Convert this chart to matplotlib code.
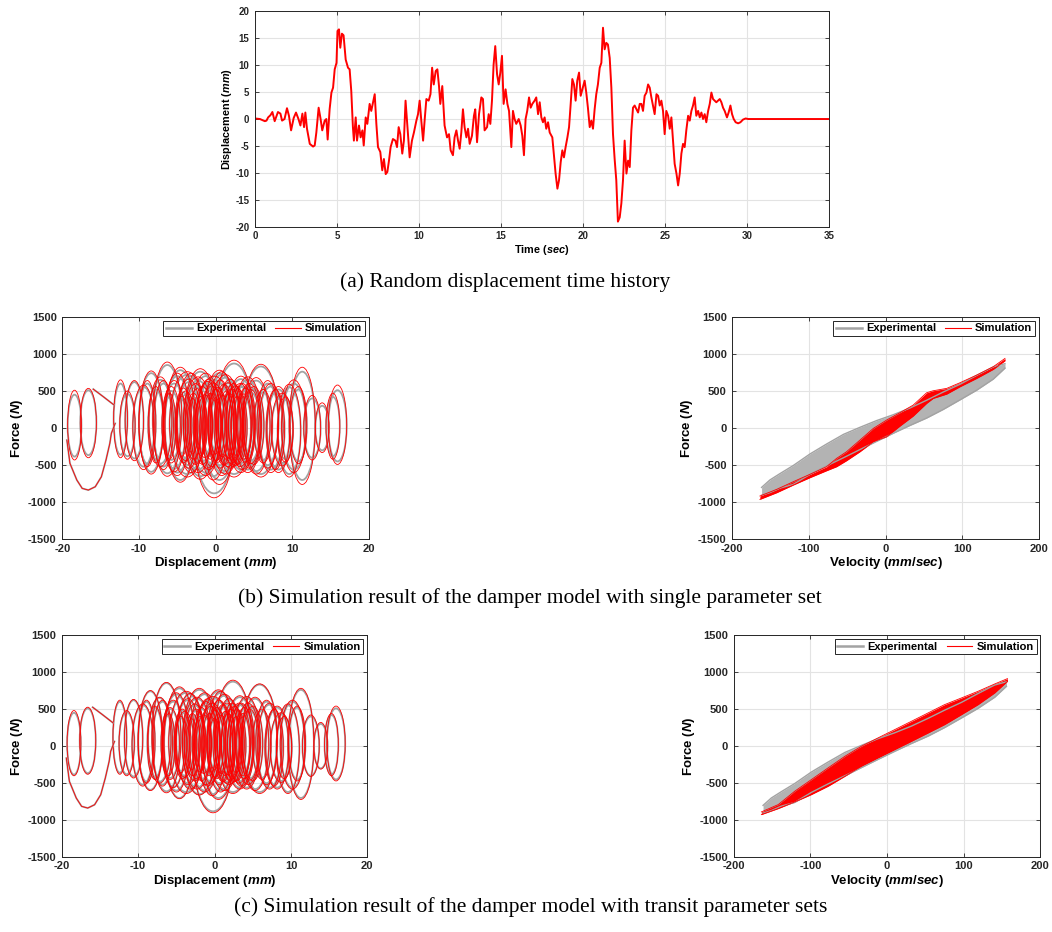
import numpy as np
import matplotlib.pyplot as plt
from matplotlib.patches import Ellipse
from matplotlib.lines import Line2D

plt.rcParams['font.family'] = ['Liberation Sans', 'DejaVu Sans']
plt.rcParams['mathtext.fontset'] = 'custom'
plt.rcParams['mathtext.it'] = 'Liberation Sans:italic:bold'
plt.rcParams['mathtext.rm'] = 'Liberation Sans:bold'
plt.rcParams['axes.unicode_minus'] = False

# (a) displacement time history
t_hist = [0, 0.3, 0.6, 0.7, 0.8, 0.94, 1.06, 1.2, 1.4, 1.55, 1.65, 1.8, 1.95, 2.07, 2.2, 2.36, 2.5, 2.65, 2.77, 2.89,
          2.99, 3.07, 3.17, 3.34, 3.54, 3.64, 3.74, 3.88, 4.0, 4.1, 4.25, 4.35, 4.43, 4.55, 4.66, 4.76, 4.86, 4.97,
          5.03, 5.12, 5.2, 5.3, 5.4, 5.53, 5.67, 5.77, 5.87, 5.97, 6.03, 6.14, 6.22, 6.34, 6.44, 6.55, 6.63, 6.75,
          6.85, 6.99, 7.09, 7.2, 7.3, 7.4, 7.5, 7.64, 7.76, 7.86, 7.97, 8.07, 8.17, 8.27, 8.41, 8.56, 8.66, 8.76,
          8.86, 8.98, 9.08, 9.18, 9.33, 9.43, 9.57, 9.69, 9.84, 9.94, 10.04, 10.14, 10.25, 10.35, 10.45, 10.59,
          10.7, 10.8, 10.9, 11.02, 11.12, 11.22, 11.3, 11.42, 11.56, 11.71, 11.83, 11.93, 12.07, 12.17, 12.28,
          12.38, 12.48, 12.58, 12.68, 12.78, 12.89, 12.99, 13.09, 13.23, 13.35, 13.43, 13.54, 13.66, 13.8, 13.9,
          14.0, 14.15, 14.25, 14.35, 14.45, 14.55, 14.65, 14.76, 14.86, 14.96, 15.06, 15.16, 15.28, 15.39, 15.49,
          15.63, 15.73, 15.83, 15.93, 16.08, 16.2, 16.3, 16.4, 16.5, 16.6, 16.71, 16.81, 16.91, 17.05, 17.15,
          17.26, 17.36, 17.46, 17.56, 17.66, 17.76, 17.87, 17.97, 18.13, 18.23, 18.33, 18.44, 18.54, 18.64,
          18.74, 18.84, 18.94, 19.05, 19.15, 19.25, 19.35, 19.45, 19.55, 19.65, 19.76, 19.86, 19.96, 20.1, 20.2,
          20.3, 20.41, 20.51, 20.61, 20.71, 20.81, 20.91, 21.02, 21.12, 21.22, 21.32, 21.42, 21.52, 21.63,
          21.73, 21.83, 21.93, 22.03, 22.13, 22.24, 22.34, 22.44, 22.54, 22.65, 22.75, 22.85, 22.95, 23.05,
          23.15, 23.26, 23.36, 23.46, 23.56, 23.66, 23.76, 23.87, 23.97, 24.07, 24.17, 24.27, 24.37, 24.48,
          24.58, 24.68, 24.78, 24.88, 24.98, 25.08, 25.19, 25.29, 25.39, 25.49, 25.59, 25.7, 25.8, 25.9, 26.0,
          26.1, 26.2, 26.3, 26.41, 26.51, 26.61, 26.71, 26.81, 26.91, 27.02, 27.12, 27.22, 27.32, 27.42, 27.52,
          27.63, 27.73, 27.83, 27.93, 28.03, 28.13, 28.24, 28.34, 28.44, 28.54, 28.64, 28.78, 28.88, 28.99,
          29.09, 29.19, 29.31, 29.46, 29.6, 29.76, 29.92, 30.07, 35]
d_hist = [0.1, 0, -0.4, -0.3, 0.3, 0.7, 1.3, -0.4, 1.3, 1.0, -0.3, 0, 2.0, 0.6, -2.1, 0.2, 1.2, 0, -1.2, 1.0,
          -1.5, 1.2, -1.8, -4.6, -5.1, -4.9, -2.5, 2.1, 0, -2.1, -0.3, 0, -3.8, 1.8, 4.9, 5.8, 9.2, 10.4,
          16.3, 16.6, 13.2, 15.8, 15.5, 11.0, 9.5, 9.2, 5.2, -1.5, -4.0, 0.3, -4.0, -1.2, -3.4, -2.1, -4.9, 0.3,
          -0.9, 2.8, 1.5, 3.1, 4.6, -0.9, -5.2, -6.1, -9.5, -7.4, -10.2, -9.8, -7.7, -5.2, -3.7, -4.0, -5.2, -1.5,
          -2.8, -6.4, -4.0, 3.4, -2.8, -7.1, -4.0, -2.5, -0.3, 0.9, 3.4, -0.3, -4.0, 0, 3.7, 3.4,
          4.6, 9.5, 6.4, 8.9, 9.2, 6.1, 2.8, 6.1, -1.2, -3.4, -2.8, -5.8, -6.7, -3.4, -2.1,
          -4.0, -5.5, -2.5, 1.8, -1.5, -3.4, -1.8, -4.6, -3.1, 0.6, 1.8, -4.3, 0.9, 4.0, 3.7,
          -2.1, -1.5, 0.9, -0.9, 3.4, 10.1, 13.5, 8.3, 6.4, 8.6, 11.7, 2.8, 5.5, 2.8, 1.5,
          -5.2, 1.5, 0, -0.9, 0, -1.2, -3.1, -6.7, 0, 1.5, 4.0, 2.1, 2.8, 3.4, 4.0,
          0.9, 3.1, 0.3, -0.6, 0.3, -1.8, -0.6, -2.5, -3.4, -6.7, -10.1, -12.9, -11.3, -8.0,
          -5.8, -7.1, -5.2, -3.4, -1.5, 2.8, 7.4, 6.4, 3.4, 7.1, 8.6, 4.3, 5.5, 7.1, 4.9,
          2.1, -1.5, -0.3, -1.8, 1.8, 4.6, 6.4, 9.5, 10.4, 16.9, 12.9, 14.1, 13.8, 11.3,
          5.8, -2.8, -7.4, -11.3, -19.0, -18.2, -15.6, -11.3, -4.0, -10.1, -7.7, -8.9, -2.1, 2.1,
          2.5, 1.8, 1.2, 2.8, 2.8, 1.5, 4.3, 4.9, 6.4, 5.8, 4.0, 2.5, 0.9, 4.6,
          4.3, 2.5, 3.4, 1.5, -2.8, 1.5, 0.6, -1.8, 0.3, -4.0, -8.3, -10.1, -12.3, -10.1, -6.4,
          -4.6, -5.2, -2.1, 0.6, -0.3, 1.5, 2.5, 4.0, 0.6, 1.5, 0.3, 1.2, 0, 0.9, -0.6,
          1.5, 2.8, 4.9, 3.7, 3.4, 3.1, 3.4, 3.7, 3.1, 2.1, 1.5, 0.3, 1.2, 2.5,
          0.9, 0, -0.6, -0.8, -0.6, -0.1, 0.1, 0, 0]

# force-displacement loops: centre (mm), half width (mm), top / bottom force (N)
loop_xc = [-18.4, -16.6, -12.4, -10.6, -9.4, -8.4, -7.2, -6.3, -5.8, -5.4, -4.6, -4.2, -3.9, -3.5, -3.2, -2.9,
           -2.6, -2.3, -2.0, -1.7, -1.4, -1.1, -0.9, -0.5, -0.2, 0.1, 0.3, 0.6, 0.8, 1.1, 1.4, 1.6, 1.9, 2.1,
           2.4, 2.6, 2.9, 3.2, 3.5, 3.9, 4.2, 4.6, 5.0, 5.9, 6.8, 7.8, 8.7, 9.6, 10.8, 11.3, 12.6, 13.9,
           15.3, 15.9,
           -7.8, -6.8, -6.0, -5.0, -4.4, -3.7, -3.0, -2.4, -1.9, -1.3, -0.7, -0.3, 0.0, 0.5, 0.9, 1.3,
           1.8, 2.3, 2.8, 3.3, 3.7, 4.4, 5.3, 6.2, 7.2, 8.2, 9.1, 10.2, -11.5, -8.9]
loop_hw = [0.9, 1.05, 0.9, 1.2, 1.4, 1.6, 1.5, 1.9, 1.2, 1.5, 2.0, 1.1, 1.2, 1.6, 1.8, 1.0,
           1.4, 1.9, 2.2, 1.2, 1.0, 1.5, 1.6, 1.3, 2.6, 1.1, 1.2, 1.5, 1.8, 1.3, 1.0, 1.6, 1.6, 1.2,
           2.4, 1.3, 1.2, 1.5, 1.5, 1.2, 1.8, 1.2, 1.3, 2.3, 1.4, 1.2, 1.4, 1.5, 1.1, 1.7, 1.1, 0.9,
           0.9, 1.2,
           1.0, 1.3, 0.8, 1.7, 0.8, 2.3, 0.7, 1.1, 0.8, 2.0, 0.9, 1.8, 0.7, 2.2, 0.8, 2.0,
           0.9, 1.4, 0.8, 1.9, 0.9, 1.5, 1.8, 1.2, 1.6, 1.5, 1.0, 1.6, 1.0, 1.1]
exp_top = [450, 510, 600, 620, 555, 740, 650, 850, 500, 600, 780, 480, 450, 620, 700, 420,
           550, 640, 760, 500, 400, 580, 620, 520, 650, 460, 500, 600, 720, 540, 450, 560, 620, 480,
           870, 520, 480, 560, 560, 500, 650, 480, 520, 830, 600, 480, 430, 550, 520, 760, 400, 300,
           420, 510,
           520, 600, 420, 700, 380, 720, 350, 480, 380, 700, 420, 560, 360, 740, 400, 680,
           420, 560, 380, 660, 420, 560, 640, 480, 560, 520, 380, 600, 460, 600]
exp_bot = [-385, -365, -360, -410, -520, -590, -480, -610, -430, -550, -700, -420, -400, -500, -560, -380,
           -450, -560, -650, -450, -350, -500, -520, -480, -880, -400, -420, -500, -600, -460, -380, -480, -500, -440,
           -620, -460, -450, -480, -520, -420, -560, -440, -450, -620, -500, -520, -470, -620, -450, -700, -400, -300,
           -380, -450,
           -430, -520, -380, -600, -340, -620, -300, -420, -330, -600, -380, -650, -300, -700, -350, -580,
           -370, -480, -340, -560, -380, -500, -580, -430, -560, -560, -420, -560, -380, -480]
simb_top = [510, 535, 650, 640, 580, 770, 690, 890, 560, 640, 820, 540, 500, 660, 740, 470,
            600, 690, 800, 560, 450, 630, 660, 570, 700, 520, 550, 650, 760, 590, 500, 610, 660, 530,
            915, 570, 530, 600, 600, 540, 690, 520, 560, 860, 640, 520, 470, 590, 560, 820, 440, 340,
            470, 580,
            560, 640, 470, 740, 430, 760, 400, 530, 430, 740, 470, 610, 410, 780, 450, 720,
            470, 600, 430, 700, 460, 600, 680, 520, 600, 560, 420, 650, 500, 640]
simb_bot = [-430, -400, -400, -440, -560, -620, -520, -650, -470, -590, -730, -470, -440, -540, -600, -420,
            -490, -600, -690, -490, -400, -540, -560, -520, -940, -440, -460, -540, -640, -500, -420, -520, -540, -480,
            -660, -500, -490, -520, -560, -460, -600, -480, -490, -660, -540, -560, -510, -660, -480, -760, -430, -330,
            -420, -490,
            -470, -560, -420, -640, -380, -660, -350, -460, -370, -640, -420, -700, -350, -760, -390, -620,
            -410, -520, -380, -600, -420, -540, -620, -470, -600, -600, -460, -600, -420, -520]
simc_top = [480, 525, 620, 630, 570, 750, 660, 860, 520, 620, 800, 500, 470, 640, 710, 440,
            570, 660, 780, 520, 420, 600, 640, 540, 670, 480, 520, 620, 740, 560, 470, 580, 640, 500,
            890, 540, 500, 580, 580, 520, 670, 500, 540, 840, 620, 500, 450, 570, 540, 780, 420, 320,
            440, 540,
            540, 620, 440, 720, 400, 740, 370, 500, 400, 720, 440, 580, 380, 760, 420, 700,
            440, 580, 400, 680, 440, 580, 660, 500, 580, 540, 400, 620, 480, 620]
simc_bot = [-400, -380, -380, -430, -540, -600, -500, -630, -450, -560, -710, -440, -420, -520, -580, -400,
            -470, -580, -660, -470, -370, -520, -540, -500, -900, -420, -440, -520, -620, -480, -400, -500, -520, -460,
            -640, -480, -470, -500, -540, -440, -580, -460, -470, -640, -520, -540, -490, -640, -470, -720, -410, -310,
            -400, -470,
            -450, -540, -400, -620, -360, -640, -320, -440, -350, -620, -400, -670, -320, -720, -370, -600,
            -390, -500, -360, -580, -400, -520, -600, -450, -580, -580, -440, -580, -400, -500]

# the long excursion towards -19 mm
path_lo_x = [-19.4, -19.0, -18.1, -17.4, -16.6, -15.7, -14.9, -14.3, -13.8, -13.6, -13.1]
path_lo_f = [-162, -476, -701, -813, -836, -791, -656, -431, -207, -72, 63]
path_up_x = [-15.96, -14.7, -13.3]
path_up_f = [525, 427, 315]

# force-velocity bands (upper / lower edges)
exp_v = [-161.8, -151, -138, -120.5, -98.8, -77, -55, -33.5, -12, 10, 31.7, 53.5, 75, 97, 118.7, 140.4, 155.7]
exp_up = [-800, -700, -615, -505, -350, -215, -85, 10, 100, 180, 270, 375, 485, 590, 710, 825, 868]
exp_lo = [-905, -870, -810, -760, -625, -510, -400, -290, -180, -70, 35, 135, 250, 380, 510, 660, 808]

simb_v = [-164, -142, -120.5, -98.8, -77, -64, -51, -33.5, -16, 1.3, 18.7, 36, 53.5, 62, 79.7, 97, 118.7, 140.4, 155.7]
simb_up = [-916, -826, -723, -624, -521, -409, -319, -162, -4, 108, 207, 310, 476, 503, 535, 611, 714, 827, 939]
simb_lo = [-961, -871, -768, -669, -575, -521, -440, -319, -184, -117, 27, 162, 333, 400, 458, 557, 669, 791, 907]

simc_v = [-164, -142, -120.5, -98.8, -77, -55, -33.5, -12, 10, 31.7, 53.5, 75, 97, 118.7, 140.4, 157]
simc_up = [-888, -789, -609, -452, -294, -137, -2, 110, 223, 335, 448, 560, 650, 740, 839, 911]
simc_lo = [-924, -843, -753, -654, -542, -407, -272, -160, -47, 65, 178, 290, 425, 560, 718, 875]

GREY = '#a3a3a3'
DARK = '#262626'


def style(ax, xlim, ylim, xticks, yticks, fs):
    ax.set_xlim(xlim)
    ax.set_ylim(ylim)
    ax.set_xticks(xticks)
    ax.set_yticks(yticks)
    ax.grid(True, color='#e3e3e3', lw=0.8)
    ax.set_axisbelow(True)
    ax.tick_params(direction='in', top=True, right=True, length=3, width=0.6,
                   labelsize=fs, colors=DARK)
    ax.tick_params(axis='y', pad=4)
    ax.tick_params(axis='x', pad=3)
    for lab in ax.get_xticklabels() + ax.get_yticklabels():
        lab.set_fontweight('bold')
    for s in ax.spines.values():
        s.set_color(DARK)
        s.set_linewidth(0.7)


def add_legend(ax):
    h = [Line2D([], [], color=GREY, lw=1.8), Line2D([], [], color='red', lw=0.8)]
    leg = ax.legend(h, ['Experimental', 'Simulation'], loc='upper right', ncol=2,
                    fancybox=False, edgecolor=DARK, framealpha=1, handlelength=2.3,
                    columnspacing=0.8, handletextpad=0.4, borderpad=0.25, borderaxespad=0.35,
                    prop={'weight': 'bold', 'size': 8})
    leg.get_frame().set_linewidth(0.7)
    leg.set_zorder(10)


def loops(ax, top, bot, color, lw):
    for xc, hw, tp, bt in zip(loop_xc, loop_hw, top, bot):
        ax.add_patch(Ellipse((xc, (tp + bt) / 2), 2 * hw, tp - bt, fill=False,
                             edgecolor=color, lw=lw))
    ax.plot(path_lo_x, path_lo_f, color=color, lw=lw)
    ax.plot(path_up_x, path_up_f, color=color, lw=lw)


def force_disp(ax, sim_top, sim_bot):
    loops(ax, exp_top, exp_bot, GREY, 1.3)
    loops(ax, sim_top, sim_bot, 'red', 0.6)
    style(ax, (-20, 20), (-1500, 1500), [-20, -10, 0, 10, 20],
          [-1500, -1000, -500, 0, 500, 1000, 1500], 8)
    ax.set_xlabel(r'Displacement ($\mathit{mm}$)', fontsize=9.5, fontweight='bold', labelpad=1)
    ax.set_ylabel(r'Force ($\mathit{N}$)', fontsize=9.5, fontweight='bold', labelpad=2)
    add_legend(ax)


def force_vel(ax, sv, sup, slo):
    ax.fill_between(exp_v, exp_lo, exp_up, color='#b3b3b3', lw=0)
    ax.plot(exp_v, exp_up, color=GREY, lw=1.0)
    ax.plot(exp_v, exp_lo, color=GREY, lw=1.0)
    ax.fill_between(sv, slo, sup, color='red', lw=0)
    ax.plot(sv, sup, color='red', lw=0.6)
    ax.plot(sv, slo, color='red', lw=0.6)
    style(ax, (-200, 200), (-1500, 1500), [-200, -100, 0, 100, 200],
          [-1500, -1000, -500, 0, 500, 1000, 1500], 8)
    ax.set_xlabel(r'Velocity ($\mathit{mm/sec}$)', fontsize=9.5, fontweight='bold', labelpad=1)
    ax.set_ylabel(r'Force ($\mathit{N}$)', fontsize=9.5, fontweight='bold', labelpad=2)
    add_legend(ax)


fig = plt.figure(figsize=(10.52, 9.32), dpi=100)

ax_a = fig.add_axes([0.2424, 0.7564, 0.5456, 0.2318])
ax_a.plot(t_hist, d_hist, color='red', lw=1.4)
style(ax_a, (0, 35), (-20, 20), range(0, 36, 5), range(-20, 21, 5), 7)
ax_a.set_xlabel(r'Time ($\mathit{sec}$)', fontsize=7.8, fontweight='bold', labelpad=1)
ax_a.set_ylabel(r'Displacement ($\mathit{mm}$)', fontsize=7.8, fontweight='bold', labelpad=1)

ax_b1 = fig.add_axes([0.0592, 0.4213, 0.2915, 0.2388])
force_disp(ax_b1, simb_top, simb_bot)
ax_b2 = fig.add_axes([0.6961, 0.4213, 0.2915, 0.2388])
force_vel(ax_b2, simb_v, simb_up, simb_lo)

ax_c1 = fig.add_axes([0.0587, 0.0802, 0.2905, 0.2385])
force_disp(ax_c1, simc_top, simc_bot)
ax_c2 = fig.add_axes([0.6975, 0.0802, 0.2915, 0.2385])
force_vel(ax_c2, simc_v, simc_up, simc_lo)

cap = dict(family=['Liberation Serif', 'DejaVu Serif'], fontsize=15.5, ha='center', va='center')
fig.text(0.480, 0.6974, '(a) Random displacement time history', **cap)
fig.text(0.504, 0.3584, '(b) Simulation result of the damper model with single parameter set', **cap)
fig.text(0.504, 0.0268, '(c) Simulation result of the damper model with transit parameter sets', **cap)

fig.savefig('out.png', dpi=100)
